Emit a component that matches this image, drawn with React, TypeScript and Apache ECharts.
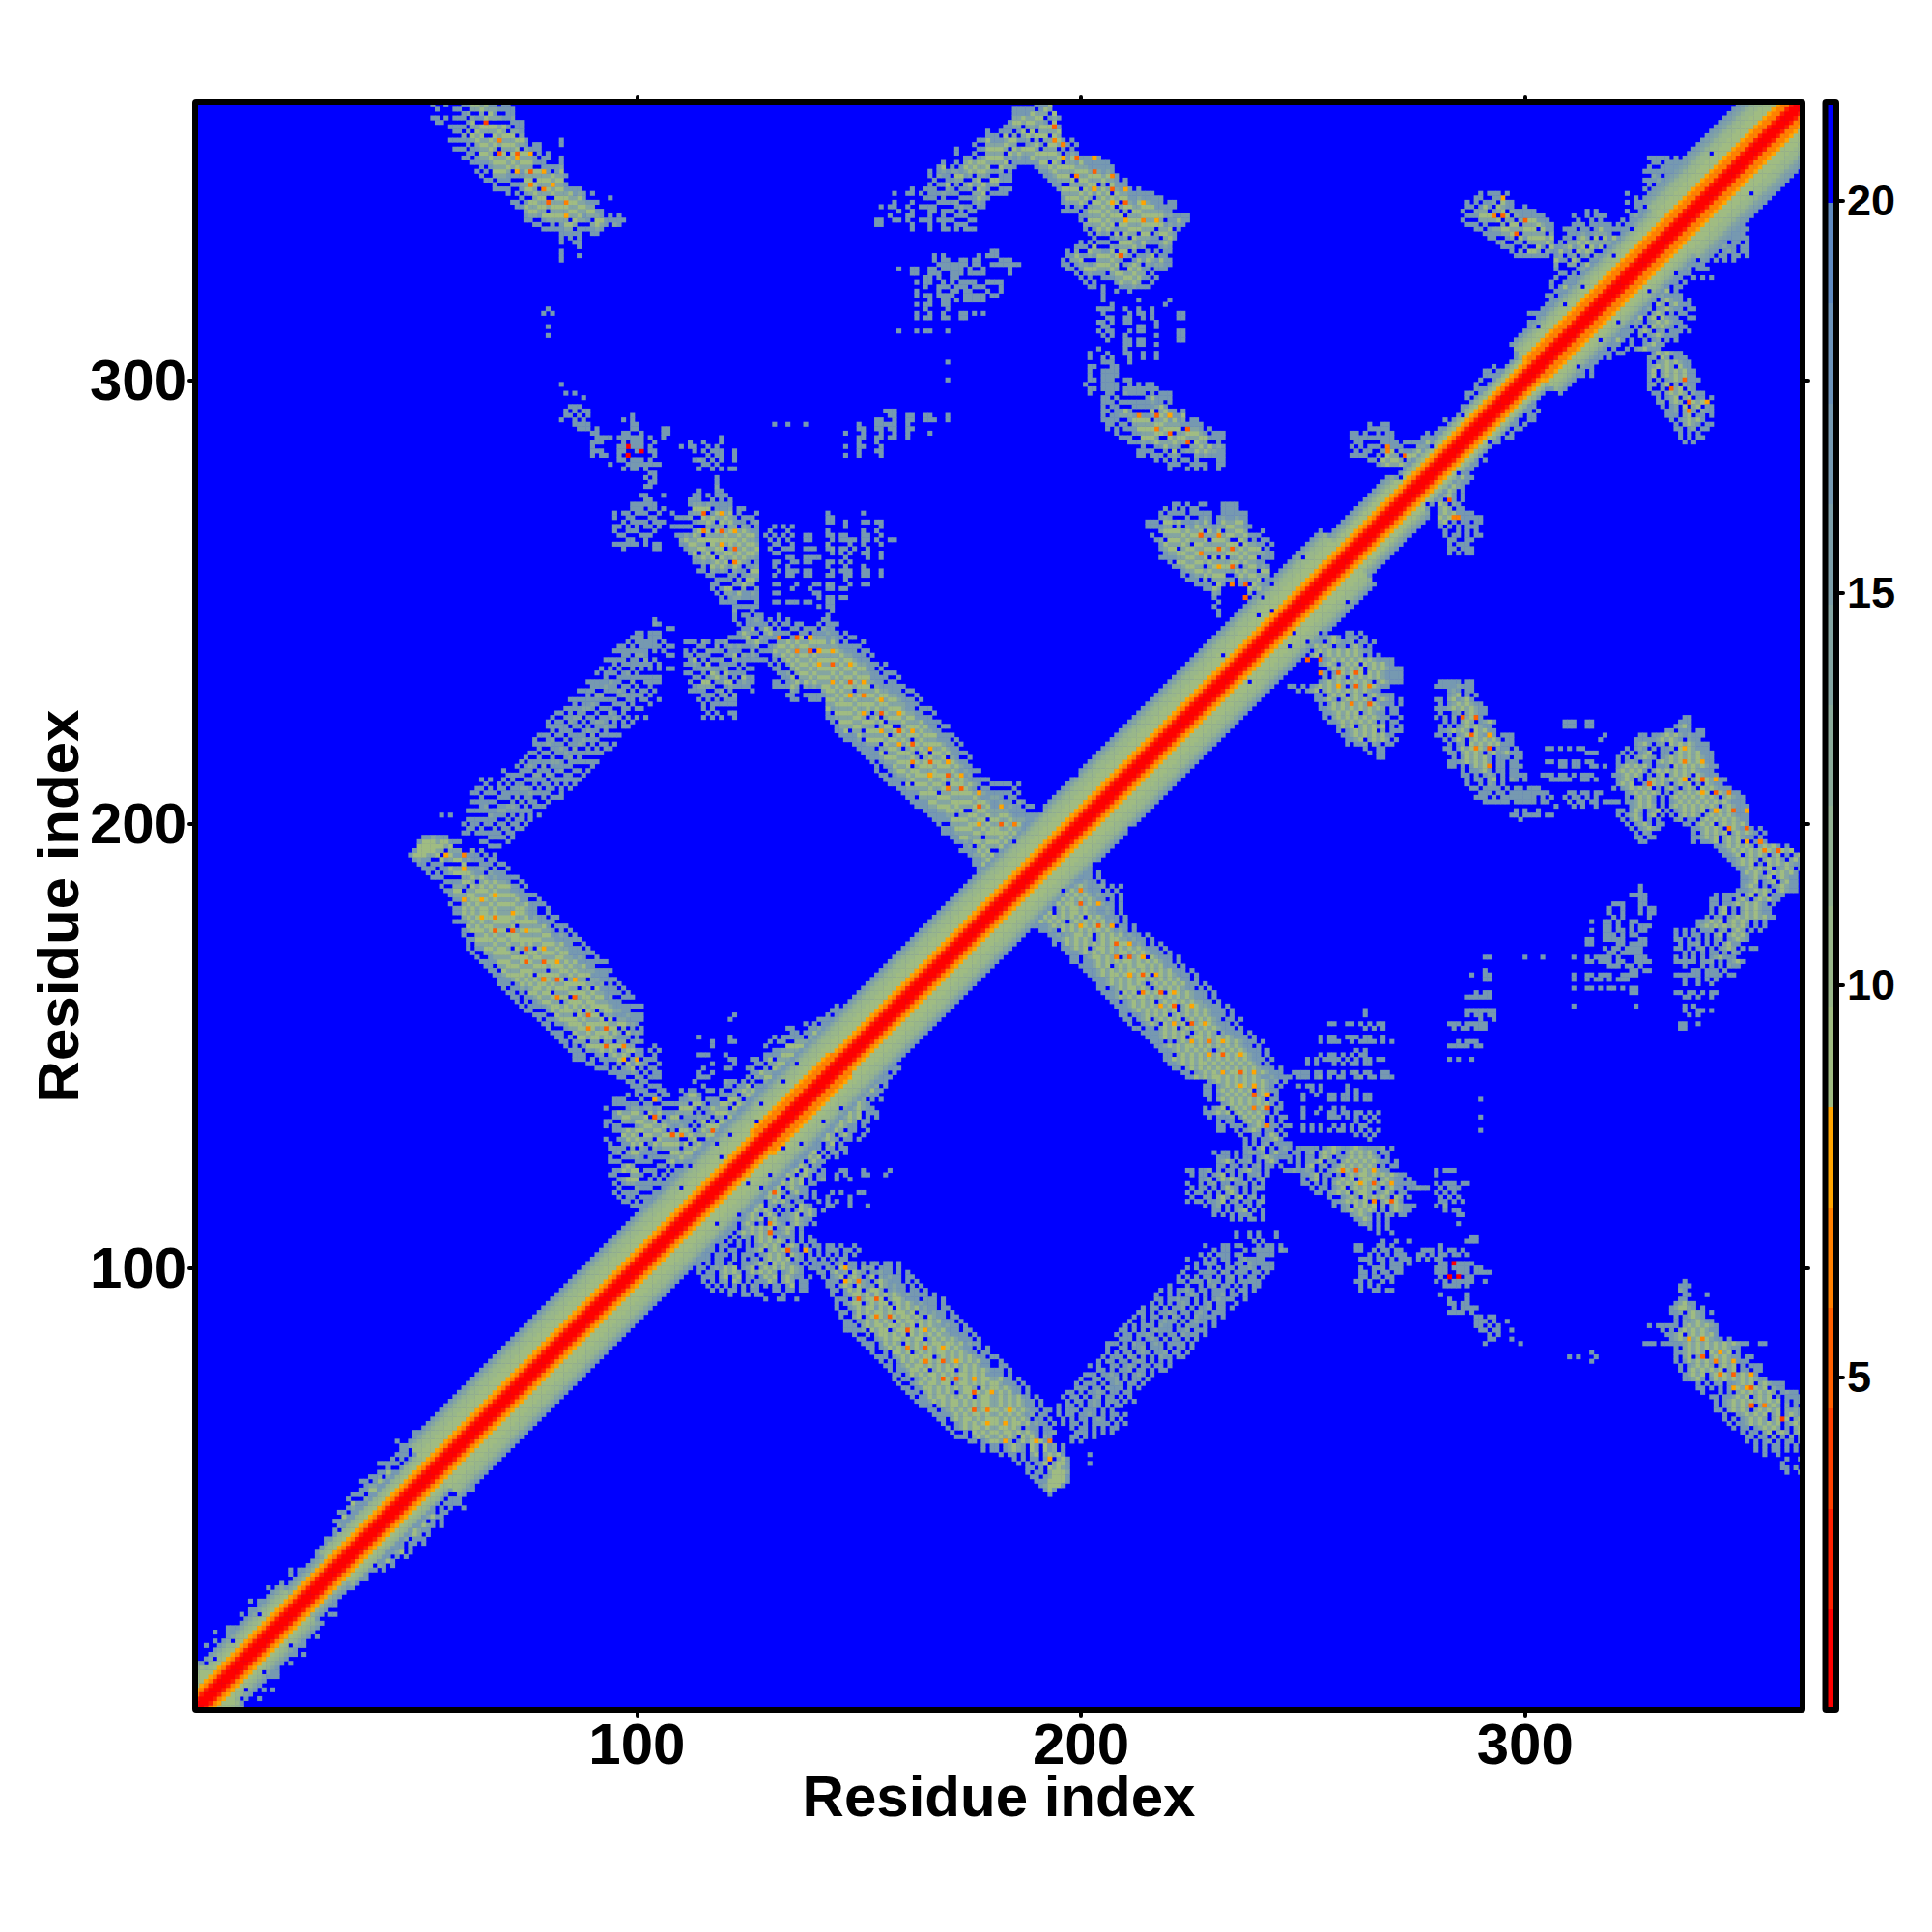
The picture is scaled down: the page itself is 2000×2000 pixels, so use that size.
import React, { useEffect, useRef } from "react";
import * as echarts from "echarts";

// Scale of the colour bar: 16 equal bins.
const scaleMin = 0.76;
const scaleMax = 21.25;
const scaleTicks = [5, 10, 15, 20];
const binColors = ["#FF0000", "#FF2000", "#FF4000", "#FF6000", "#FF8000", "#FFA500", "#A0BC82", "#99B78A", "#92B192", "#8BAB9A", "#84A5A2", "#7D9FA9", "#7699B1", "#6C92B9", "#5F89C0", "#0000FF"];
const residueCount = 362;
// The feature tables below were read on a 359-step ruler; this is the ratio to true residues.
const readingRuler = 359;
// Letters used in the feature tables and the colour bin each stands for.
const featureBins: Record<string, number> = { "0": 0, "2": 2, "3": 3, "4": 4, "5": 5, "6": 6, "8": 6, a: 10, c: 12 };

// Diagonal band, per stretch of residues [from, to, bin at |i-j| = 0,1,2,... as hex digits].
const bandStretches: [number, number, string][] = [
  [0, 6, "0014566678ac"], [6, 14, "0014567 8ac".replace(" ", "")], [14, 24, "00145 678ac".replace(" ", "")], [24, 32, "001458ac"], [32, 44, "00145678c"], [44, 54, "00145678c"],
  [54, 128, "001456667 78ac".replace(" ", "")], [128, 146, "00144566 7 78ac".replace(/ /g, "")], [146, 260, "001456667 78ac".replace(" ", "")], [260, 274, "0014566 8ac".replace(" ", "")],
  [274, 302, "00145 68c".replace(" ", "")], [302, 333, "001445 6678ac".replace(" ", "")], [333, 363, "001445666778abc"],
];
const bandHoles: [number, number][] = [[351, 342], [12, 5], [16, 9], [11, 3], [22, 15], [29, 21], [40, 30], [41, 33], [48, 38], [36, 27], [203, 191], [211, 199], [196, 185], [254, 243], [260, 250], [302, 293], [312, 303], [321, 313], [334, 324], [123, 112], [137, 128], [146, 136], [292, 286], [118, 110], [130, 121], [142, 133], [125, 119], [133, 127], [128, 118], [238, 232], [247, 240], [251, 241], [248, 243], [278, 272], [285, 279], [306, 296], [317, 309], [328, 320]];

// Off-diagonal contacts, lower-right triangle only: [residue y, first residue x, letter per cell, "." = none].
const armLowerCentre: [number, number, string][] = [
  [100, 139, "c.cc.ca.cc.c.cc.cc.c"], [99, 139, "cc.ac.8acc.aca.ccc.c"], [98, 140, "cc.a8ca.8ac.ccacc.c.c"], [97, 141, "c.ca8.a8a.c8.acacc.cc"], [96, 142, "ccc.88a8ac.a8accc.c.c"], [95, 142, "cc.a8a.8aca.8acacc.c.c"],
  [94, 143, "cc.c8a8.a88a.cacc.cc.c"], [93, 143, "c..ca88a8c8a8a8acacccc.c"], [92, 144, "ccc.a8a88a8.a88accc.ccc.c"], [91, 144, "c.ca88.a8a88.a8a8acaccc.c"], [90, 144, "c..ca8a88c8a8.8a8a8cacc.cc"], [89, 145, "cc.c8a8a88a8a88a8.aacacc.c"],
  [88, 145, "c..a8.a8a8a88a88a8a.8acc.cc"], [87, 146, "cc.ca8a8a8a.8a88a8a8a8ccc.c"], [86, 146, "ccc.a8a88a88a8a8.8a8aacacc.c"], [85, 146, "cccca.8a88.a88a8a88a8a8ccc.cc"], [84, 148, "c..c.a88a8a8.8a8a8a8aacccc.c"], [83, 149, "cc..ca8a88a8a88.a8a8a8accc.c"],
  [82, 150, "ccc.c8a8a.8a8a8a88a88a8cacc"], [81, 151, "cc.ca8a8a8a8a88a8a8a8acc.c.c"], [80, 152, "c..c.88a8.a8a8a88a8a8acc.cc"], [79, 153, "ccc.ca8a88a88.a8a8a8a8acc.c"], [78, 154, "c.c.c8a8a8.8a88a8a8a8a8cc.c"], [77, 155, "cc.ca8a88a8a8a8a8a8a8acc.cc"],
  [76, 156, "c.cca88a8.a8a88.a8a8a8acc.c"], [75, 157, "cc.c8a8a88a8a8a88a8a8ccc.c"], [74, 157, "c.cc.ca8a8a88a8a8a8a88a8cc.c"], [73, 158, "c..ca8a88a88.a88a8a8a8accc.c"], [72, 159, "cc.cc88a8a8a8a88a.8a8a8acc.c"], [71, 160, "ccc.a8a8a8a.a88a8a8a8a8cc.c"],
  [70, 161, "c.cc8a88a8a8a8.a88a8a8a8cc.c"], [69, 162, "ccca8a8a88a8a8a88a8a8a8acc.c"], [68, 163, "ccc.a8a88a8a8a88a8a8a8acc.c"], [67, 165, "cc.ca8a8a88a8a8a8a8a8acc.c"], [66, 166, "cccca8a8a88a8a8a8a8aca.cc"], [65, 167, "cc.a8a88a8a88a8a8a8a.cc.c"],
  [64, 168, "c..ca8a8a8a8a8a88a8cacc.c"], [63, 169, "c.ca8a88a8a88a8a.acc.cc"], [62, 170, "c..c.8a8a8a88a8a8ac.cca"], [61, 171, "ccc.a8a8a8a8a.8a8c.ac"], [60, 174, "cc.ca8a8a.c8a8a8cc.."], [59, 177, "c.c.ca8ac.8a.8ca.c"],
  [58, 180, "c.cc.c.a8.a8a8c."], [57, 183, "c.c.cc.cc.a8c"], [56, 184, "c.c.cc8.a88c"], [55, 185, ".cc.c.8a8ac"], [54, 186, "c.cc.a868a"], [53, 187, "cc.ca866c"], [52, 188, "ccc8868c"], [51, 188, ".ca868c"], [50, 190, "c8c"], [49, 191, "c"],
];
const armLowerCheckered: [number, number, string][] = [
  [107, 233, "c..c.c...c"], [106, 233, "c..c.....c"], [104, 226, "c...cc.cc...c.cc.c"], [103, 226, "..c.cc...c.c.ccc.ac"], [102, 224, ".c.c.ccc.cc...cc.c"], [101, 222, "c...c.c.cc..cac.cc"], [100, 222, "..c.ccc..c.cc.a.cc.c"],
  [99, 222, "c.c..c.c.cc.ccac.c.c"], [98, 221, "c...cccc.ac.ccc.cc.c"], [97, 220, "c.c.c.cc.c.ca.c.cc.c"], [96, 220, "cc.ccc.acc.cc.ccccc"], [95, 218, "c...c..c.ca.cc.c.c.cc"], [94, 216, "c.c.ccac.cc.ccc.c.cc.c"], [93, 215, "c..c.c.cac.c.cca.cc.c"],
  [92, 215, "cc.ccacc.c.c.caccc..c"], [91, 214, "c.c.c.cac.c.ca.cc..c"], [90, 212, "c.cc.c.cca.c.cca.cc.c"], [89, 211, "cc.c.ccac.cc.cac.ccc"], [88, 210, "c.c.cc.c.ac.c.acccc.c"], [87, 209, "c..c.c.cacc.c.cacc.c"], [86, 208, "c.c.ccc.acc.c.acc.c.c"],
  [85, 207, "cc.c.c.caccc.cca.ccc"], [84, 206, "c.cc.ccac.c.cc.accc.c"], [83, 205, "..ccc.c.cac.c.cc.c.c"], [82, 204, "ccc.c.acc.cac.cccc.c"], [81, 204, "c..cc.cca.ccc.c.cc.c"], [80, 204, "c.c.cc.cac.cca.cc.c"], [79, 203, "c.ccc.ac.c.c.acc.cc"],
  [78, 201, ".c.cc.cc.cac.c.c.c"], [77, 200, "c.c..cc.cac.cc.cc.c"], [76, 200, "..cc.c.cca.cc.c.cc"], [75, 199, "ccc.ccac.c.cac.c"], [74, 198, "c..cc.cca.c.cc.c"], [73, 197, "c.ccc.c.cac.cc.c"], [72, 196, ".ccc.cc.accc.c.c"], [71, 195, "cc.c.ccac.cc.cc"], [70, 194, "c.cc.c.ca.cc.c.c"],
  [69, 194, ".c.cc.cac.ccc.c.c"], [68, 192, ".c.cc.c.cac.c.cc"], [67, 191, "c.c.ccc.ccc.c.c"], [66, 193, "c.cc.ccac.c.cc.c"], [65, 194, "c.c.cc.cac.c.c"], [64, 194, "c.cc.c.cccc.c.c"], [63, 196, "c.cc.c.c.cc"], [62, 196, ".ccc.c.c.c"], [61, 196, "cc.c.c"], [60, 196, "c.c"], [58, 200, "c"], [56, 200, "c"],
];
const armUpperCentre: [number, number, string][] = [
  [187, 196, "cca.c.c"], [186, 196, "caacc.c"], [185, 196, "8acacc.c"], [184, 196, "8a8accca.c.c"], [183, 190, "a8a88a8a8accc.c.c"], [182, 190, "8a8a.8a8a8acaccc.c"], [181, 187, "c8a8a8a8a8a8a8acc.c.c"], [180, 187, "ca.a8a8a88a8a8acacc.c"], [179, 186, ".ca8a8.a8a88a8aaccac.c"],
  [178, 186, "cca.8a8a8a8a8.8a8accc.c"], [177, 186, "c.c8a8a8a.a8a8a8a8cac.c"], [176, 187, "cccca8a8a8a88a8a8ac.cc.c"], [175, 189, "ccac.8a8a8a8a8a8acac.c"], [174, 191, "ccacaa88a8.a8a8a8cacc.c"], [173, 192, "cca8a8a8a.a8a88aacacc.c"], [172, 192, "c.c8a8a8a8a8a8a88acac.c.c"],
  [171, 194, "cca8a8.a88a8a8a8a8accc.c"], [170, 195, "ccca8a8a8a8a88a8a8accc.c"], [169, 196, "cc.ca88a8a8.a8a8a.8accc.c"], [168, 196, "cc.cca8a8a8a88a8a8a8acc.c"], [167, 198, "ccca8a8.a8a8a88a8a8ccc.c"], [166, 199, "ccca8a8a8a88a8a8a8a8ccc.c"], [165, 200, "cca8a88a8.a8a8.a8a8accc.c"],
  [164, 201, "ccca8a8a8a88a8a8a8a8cc.c"], [163, 202, "cca8a8a8a8a.a8a8a8a8ccc.c"], [162, 202, "cc.ca8a88a8a.a8a8a8acc.c.c"], [161, 203, "ccca.8a8.a8a8a.8a8a8accc.c"], [160, 204, "cca8a8a88a8a8a8a8a8accc.c"], [159, 205, "cc.ca8a8a8.a8a8a8a8aacc.c"], [158, 206, "ccca8a8a8a8a8a.a8a8aaccc.c"],
  [157, 207, "ccca8a8a8a8a8.a8a8a8accc.c"], [156, 207, "cc.cca8a8a8.a8a8a8a8accc.c"], [155, 208, "cc.ca8.a8a8a8.a8a8a8ac.cc.c"], [154, 209, "c..ca8a.8a8a8.8a8a8accc.c"], [153, 210, "cc.cc.a8a8.a8a8a8a8accc.c"], [152, 212, "cccca8a8a8a.a8a8a.acccc.c"], [151, 213, "ccca8a8a8.a88a8a8a8accc.c"],
  [150, 214, "ccc.c.a8a8a8a8a8a8a8accc.c"], [149, 215, "cca8a8a88a8a8a8a8a8acc.c"], [148, 216, "ccca8a8a8a8a.a8a8a8accc.c"], [147, 217, "cc.a8a8a8a8a8a8a8a8acc.c"], [146, 217, "cc8a8a8a8a8a8a8a8a8accc.c"], [145, 218, "cca8a8a88a8a8a8a8a8ac.c"], [144, 219, "cc.a8a8a8a8a8a8a8a8accc.c"],
  [143, 221, "cc.ca8a8a8a88a8a8a8accc"], [142, 222, "cc8a8a88a8a8a8a8accacccc"], [141, 226, ".ca8a8a8a8a8a8aca.c"], [140, 226, "cc.ca8a8a8a.a8ac.c"], [139, 226, "cc.a8a8a8a8.a8acc"], [138, 226, "cc.ca8a8a8a.a8a.c"], [137, 227, "c.a8a8a8a8a8a.cc"], [136, 228, "..ca8a8a8a8a8c.c"],
  [135, 226, "c.ca8.a8a8a8a8a.cc"], [134, 226, "cca8a8.a8a8a8ac.c"], [133, 227, "c.ccca.c8a8a8.c.cc"], [132, 229, "c.cc..a8a8a.c.c"], [131, 229, "cc.ccc.ca8a8cc.cc"], [130, 229, "cc..c.ca8a.cc.c"], [129, 234, "c..cc.c8a.c"], [128, 235, "c.c.cca8c"], [127, 235, "c.c.ca.cc"], [126, 235, "cc.a8.c"],
  [125, 228, "c.cc.c.caaca.c8cc"], [124, 229, "ccc.c.cc.ca8acc"], [123, 229, "ca8c.cca.c.a8c"], [122, 229, "cc.cc.c.ca.cc.c"], [121, 222, "cc.cca.c.cc.ca8cc.c"], [120, 223, "c.cc.ca8.c.c.cca.c"], [119, 225, "cca.c8a8ac.c.ca"], [118, 222, "c..c.ca.cc.cca.c.c"],
  [117, 223, "c.cc.c.c8ac.c.cac"], [116, 222, "c.cc.c.c.a8c.c.c"], [115, 223, "c..cc.a8c.a8.ca.c"], [114, 222, "c.cc.cca8.ca.cc.ca"], [113, 226, "c.ca.c.cc.c.c"], [112, 228, "cc.c.ca8.c.c"], [111, 228, "c.c.c.ccc..c"], [110, 232, "c.c.cc.c"],
];
const branchToward280: [number, number, string][] = [
  [127, 244, "cc"], [126, 243, "cac.ccccc.ca8acca8acccca.c"], [125, 244, "c.cc.ca.a8a8c.a8a8a8c.cc"], [124, 244, "cc.c.cc.a8a.cca8a8a8ac.c"], [123, 245, "c.c.cca8.cc.a8a8a8a8acc.c"], [122, 247, "c.a8.ca.ca8a8a8a8a.c.cc"], [121, 244, "ccaccac.c.ca8a8a8a8a8acc"], [120, 248, "cca8.cc.c.a8a88a8a8a8acc"],
  [119, 248, "c.a8.c.ca8a8.a88a.a8acc.c"], [118, 248, "cc.c.c.a8a8a8a8a8a8acccccc"], [117, 250, "c.cc.ca8.a8a8a8a.a8cc.ccacc"], [116, 251, "cc.ca8a8.a88a.ca8c.cc"], [115, 254, "c..ca8a.8a8a8a.8a.c"], [114, 255, "cca8a8a8.a.a8a8c"], [113, 255, "c.ca.8a8a8.a.a8accc"], [112, 257, "ca8a8a8a.c.a8acc"],
  [111, 259, "ca8ac.c.ac.cc"], [110, 260, "cc8a.c.c"], [109, 261, "cac.c.c"], [108, 263, "c.c.c"], [107, 265, "c..c"], [105, 266, "c..c..c"],
  [117, 279, "c.ccc"], [118, 277, ".c.ccc.cc"], [121, 278, "c.ccc"], [120, 278, "c"], [116, 277, ".c.c.c"], [115, 279, "c.c.c"], [114, 279, "cc.c.c"], [113, 278, "c.a"], [112, 280, "c.cc"], [111, 283, "cc"], [109, 283, "c"],
];
const gridBesideArm: [number, number, string][] = [
  [157, 262, "c"], [156, 262, "c"], [154, 254, "cc..cc.c.c.cc"], [153, 262, "c.c.c"], [151, 252, "c.cc..ccc.cc..c"], [150, 252, "c.ccc..c.cccc.c.c"], [148, 260, "c.c"], [147, 252, "c.cc.c.c.cc"], [146, 249, "c.c.cccc.c.c.cc.cc"], [145, 249, "c.c...c.c.cc.cc"],
  [143, 246, "cccc.cc.cc.c.ca.cc..cc"], [142, 247, "ccc.ca.c.cc..ca.cc.ccc"], [140, 247, "c.cc.c.....c"], [139, 250, "c.c.....c.c"], [138, 248, "c..c..cc.cc.c.cc"], [137, 248, "c.....cc.cc.c.cc"], [135, 248, "c...c..c.c"], [134, 248, "c..c..cc.cc.cc.c.c"], [133, 248, "c.....ccc.c.c.c.c"], [132, 260, "c..c.c"],
  [131, 248, "c.c.c..c.c.c.cc"], [130, 248, "c.c.c.c.cc.c.c.c.c"], [129, 260, "c.c.c"], [128, 263, "c"],
  [137, 288, "c"], [133, 288, "c"], [130, 288, "c"],
];
const sparseNearResidue290: [number, number, string][] = [
  [169, 289, "cc.......c..c"], [166, 289, "c"], [165, 286, "c..cc"], [164, 289, "cc"], [161, 287, "c.cc"], [160, 285, "cccccc"], [157, 285, "ccccccc"], [156, 285, "c.cc.cc"], [155, 288, "c..c"], [154, 281, "ccc.ccccc"], [153, 282, "c.cc.ccc"], [150, 283, "c.ccc"], [149, 281, "ccccc.cc"], [146, 281, "c.c..c"],
];
const sparseBelowBranch: [number, number, string][] = [
  [107, 238, "c"], [106, 238, "c"], [105, 237, "c.c"], [103, 237, "cc"], [102, 238, "c.c"], [101, 237, "ccc"], [100, 237, "c.cc"], [99, 239, "cc"],
  [104, 260, "cc...cc.c"], [103, 260, "cc..c.cc.cc"], [102, 263, "c.c.c.ccc..cc"], [101, 261, "ccc.cc.c.ccc.c.c.cc"], [100, 263, "c..c.ccc.c"], [99, 261, "c..ccc.ccc"], [98, 261, "cc.c.cc.cc"], [97, 261, "cc.cc.cc"], [96, 260, "cc.c..c.c"], [95, 261, "c.c.c"], [94, 261, "c..cc.cc"],
  [106, 286, "cc"], [105, 285, "ccc"], [104, 279, "c"], [103, 275, "ccc.c.cc.c"], [102, 275, "c.c.cc.cc.c"], [100, 279, "cc.0cccc"], [99, 278, "ccc.cccc.cc"], [98, 278, "ccc..ccc.cccc"], [97, 279, "c.0.0.cc"], [96, 278, "c.c.ccccc..c"], [95, 280, "cccc.c"],
  [93, 279, "c.....c"], [92, 281, "c...c"], [91, 281, "cc.cc"], [90, 282, "c.cccc"], [89, 281, "cccc.c"], [88, 286, ".cc.cc"], [87, 287, "ccc.c..c"], [86, 287, "cc.c.c"], [85, 288, "cc.cc..c"], [84, 290, "c.c"], [83, 290, "cc...c"], [82, 289, "c.......c"],
  [80, 312, "c"], [79, 307, "c.c...c"], [78, 312, "c"],
];
const armLowerRightCorner: [number, number, string][] = [
  [96, 333, "c"], [95, 332, "ccc"], [94, 332, "ac"], [93, 333, "cc...c"], [92, 332, "cc"], [91, 331, "ca8cc"], [90, 330, "ca88ac.c"], [89, 330, "cca.a8ac.c"], [88, 331, "c.ca8ac"], [87, 331, "c.aca8acc"], [86, 325, "c.ccccc.a8a8a8ac"], [85, 328, "c.c.a8a8a8acc"], [84, 329, "cca8.a8a8a8c"], [83, 330, "ca8a8a8a8acc.c"],
  [82, 324, "ccc.ccccca8a8a8a8a8a8acc..cc"], [81, 331, "c.a8a8a8a8a8acc"], [80, 331, "cca8a8a.8a8a8.c"], [79, 331, "c.a8.a8.a8a8acc.cc"], [78, 331, "c.c8a8a8a8a8acccc"], [77, 332, "c.ca8a8a.a8a8.c.ccc"], [76, 332, "c.a8a8a8a8.a8.cc.cc"], [75, 332, ".ca8a8.a8a8a8a8acc"], [74, 333, "cca8c.c8a8a8a8a8acc"],
  [73, 336, "c.c.ca.cca8a8.a8accc"], [72, 336, "cc.c.c.ca8a8a8a8.acc"], [71, 337, "c...c.c.a8a8a8a8a.cacc"], [70, 339, "cc.cca8a8.a8a8.c.cccc"], [69, 340, "c.ca8a8a8a8a8a8.c.cc"], [68, 340, "c.ca8a8a8.a8a8a.a.c.ca"], [67, 340, "cc.a8a8a.a8a8a8.acac"], [66, 342, "c..ca8a8a8.a8.a8acc"], [65, 342, "c.c.ca8a8a.a8a8.a8cc"],
  [64, 343, "c.cca8a8a8a8.ca8a"], [63, 344, "c.cc.ca8a8a.c.a8a"], [62, 346, "c.cc.a8.a8a.a8ac"], [61, 347, "cc.cc.a.c.a.c.ac"], [60, 347, "c.c.ca.c.cc.c.c"], [59, 349, "c.c.cc.c.c"], [58, 350, ".c..c"], [57, 356, "c..c"], [56, 355, "c"], [55, 355, "cc.c"], [54, 356, "c..c"],
];
const blobs200to245: [number, number, string][] = [
  [241, 258, "cc.c"], [240, 253, "ca8c.ccc.c"], [239, 251, "cc.a8acca.cc.c"], [238, 249, "ca8a8a.cc.a8c.c"], [237, 249, "c.a8a8a8a8a8acc"], [236, 248, "c.a8.a8a8a8a8a.c.c"], [235, 252, "cca8a8a8a8a8acccc"], [234, 252, "ca8a.a8a8.8a8a8cc"], [233, 254, "c8a8a8a8.a8a8accc"], [232, 253, "c.ca8a8a8.8a8acccc"], [231, 253, "c.a8a.8a8a8a8acccc"],
  [230, 252, "ca8a8a8a8a8a.a8accc"], [229, 245, "cc.c.ca8a8a8a.a8a8a8acc"], [228, 246, ".c.ca8.a8a8a8a8a8acc"], [227, 251, "cc.a8a8.a8a.a8accc"], [226, 251, "cca8a.a8a8a8a.a8ac.c"], [225, 252, "c.c8a8a8a8a.8accc.c"], [224, 252, "cca8a8a8a8a8a8a.cc"], [223, 253, "cca8a8a8.a8acc.cc"], [222, 253, "c.a8a8a8a8a8acc..c"],
  [221, 254, "cca8a8a8a8a.c.cc"], [220, 256, "c8a8.a8a8a8.c.c"], [219, 256, "c.ca8a8a8.a.ccc"], [218, 257, "cca8a8a8a8cc"], [217, 258, "cca8.a8a8a.c"], [216, 258, "c.cca.ac.cc"], [215, 262, "c..cc"], [214, 263, "c.cc"], [213, 265, "cc"],
];
const blobs200to300: [number, number, string][] = [
  [230, 279, "ccccc.cc"], [229, 278, "cccccaccc"], [228, 281, "cac.cc"], [227, 281, "ca8.c.c"], [226, 278, "cc.a8ca8c"], [225, 279, "c.ca8a8acc"], [224, 278, "ccca8a8a8acc"], [223, 279, "c..ca.a8acc"], [222, 278, "c.c.a.ca8cc"], [221, 280, "c.c.a8a.ca8c"], [220, 279, "c.c.ca8a8acc"], [219, 279, "cca8a8a.8a8cc"], [218, 278, "cc.c.ca8a8ac.c.ccc"], [217, 280, "c.c8a.a8a8a8c.cc"],
  [216, 281, "c.ca.8a8a8a8ccc"], [215, 280, "cc.c8a8a8a8.acc.c"], [214, 281, "cc.a8a8a.a8ca8ccc"], [213, 282, "c.c8a8a8c.ccc.cc"], [212, 281, "ccca8a8a8c.cc.cc"], [211, 281, "cc.c.c8a8a.cc.ccc"], [210, 284, "c.cca8c.cc.cc"], [209, 284, "cc.c.cac.c.cccc"], [208, 285, "c.cc.a8.c.ac.c"], [207, 285, "c..c.ac.c"], [206, 286, "cc.cccc.c.cc.cc"],
  [205, 288, "ccc.cc.ccc.cc"], [204, 287, "ccc.c.ccccc.c.c.c"], [203, 289, "cccccc.cccc.c"], [201, 296, "c.c.c"], [200, 295, "cc.ccc.cc"], [199, 297, "c"],
];
const gridLeftOfArc: [number, number, string][] = [
  [221, 306, "ccc..cc"], [220, 306, "ccc..cc"], [218, 315, "c"], [217, 314, "c"], [215, 302, "cc.c.c.cc"], [214, 311, "ccc"], [212, 302, "cc.cc.cc.cc"], [211, 305, "cc.cc..cc.c"], [209, 301, "ccc.cc.c.ccc"], [208, 303, "ccccc..cc.c"], [205, 298, "ccccc....cc.cc.cc"], [204, 298, "cc.c....c.cc.c.c"], [203, 301, "cc....c.cc.cc.ccc"], [202, 304, "c...c.c..c"],
];
const arcResidue300to359: [number, number, string][] = [
  [222, 333, "cc"], [221, 332, "ccc"], [220, 331, "ca8c"], [219, 329, "cc.ccc.cc"], [218, 323, "cc.cca8a8acaccc"], [217, 322, "ccccca8a8ac.acc"], [216, 322, "ca8c.ca.8a8a8accc"], [215, 320, "c.cac.c.cca.8a8accc"], [214, 319, "c.c.ca8..cc.a8a8a8ccc"], [213, 318, "c.c.ca8ac.ca8a8a8a8acc"], [212, 318, "c.cac.cc.a8a8a8a8a8acc"],
  [211, 318, "ca8a8a8c.cca.8a8a8a8acc"], [210, 318, "a8a8a8c.a8a8a8a8a8accc"], [209, 317, "cca8a8a.c.a8.a8a8a.8accc"], [208, 318, "ca8a.c.a8a8a8a8a.a8a8accc"], [207, 318, "c8a8..c.8a8c.a8a8.a.8acc"], [206, 317, "c.ca8a8a8.c.a8c.a8a.8a8accc"], [205, 320, "ca8a8a8a.c.a8a8a8a8.a8accc"], [204, 320, "c.a8a8c.c.a8a8a8a8a8a.a8acc"], [203, 318, "c.cca8a8c.c.ca8a8a8a8a8a8accc"],
  [202, 321, "ca8a8a.c.a8a8a8a8a8a.a8accc"], [201, 318, "cc.c8a.ca8.c.ca8a8a8.c.8a8acc"], [200, 318, "c.ca8c.a8.c.c.a8a8a.a8a8a8accc"], [199, 319, "c.c8a.c.c...ca.cc.a8a8a8a8acc"], [198, 320, "c.ca8c.cc....cc.a8a8.a8a8a8c"], [197, 321, "c.ca8ac.......cca8a8a.a8accc.c"], [196, 322, "c.ac.........c.a8a8a8.a8a8ac.c"], [195, 322, "cc.cc........cca8a8.a8a8acc.c"],
  [194, 323, "cc..........c.cca8.a8a8.c.c.c"], [193, 340, "cca8a8a8a.a8a8c.c"], [192, 341, "cca8a8a8a8a8a.8a8"], [191, 342, "cca8.a8a8a.a8.c.a8"], [190, 343, "cca8a8a.a8a8c.a8c"], [189, 344, "ca8a8.c.8a8a8acc"], [188, 344, ".cca8a8a8.ca8a.c"], [187, 346, "c8a8a.a8a8a8c"], [186, 346, "cca8ca8.a8acc"], [185, 346, "cca8.ca8.a8cc"], [184, 346, "ca8a.c.ca8acc"],
  [183, 345, "ccca8a8a.a8acc"], [182, 340, "c.ccca.a8.a8.ccc"], [181, 339, "cc.cc.a8c.a8a8cc"], [180, 339, "cc.cca8a8a8ac.c"], [179, 339, "c.a8.c.a8a8acc"], [178, 338, "c.cc.ca8a8a8a8cc"], [177, 336, "cca8a8.a8a8a.c.c"], [176, 336, "ca8a8a8a8a8c.c.c"], [175, 331, "c.c.c.cca.ca.a8a.c.c"], [174, 331, "c.c.cc.c.a8.a8a8c"], [173, 331, "cc.c.c.c.ca.ca8ac"],
  [172, 332, "c.cca.c.c.a8cc"], [171, 331, "cc.c.ca.c.ca8a.c.cc"], [170, 333, "c.c.c.cc.c.ac"], [169, 331, "c.c.c.c.ca8ccc"], [168, 331, "ccccc.cca.c.ca8c"], [167, 333, "c...c.c.c.acc"], [166, 335, "cc.ccc.c"], [165, 331, "cccccc.cccc.cc"], [164, 333, "c..c.c.c"], [163, 333, "c..c..c"], [161, 331, "cc.cc.c.cc"], [160, 333, "cc.c..c"], [158, 333, "c.c"], [157, 333, "c..cc.c"], [156, 334, "c.c"], [154, 332, "cc..c"], [153, 332, "cc"],
];
const gridNearResidue320: [number, number, string][] = [
  [184, 323, "c"], [183, 323, "c"], [182, 321, "cccc"], [181, 323, "cc"], [180, 317, "ccc...cc"], [179, 316, "c..c...c.cc"], [178, 317, "c.c.....c"], [177, 312, "c..cc.c..cc"], [176, 315, "cc.c..c.ccc"], [175, 312, "c..cc.cc.c.cc"], [174, 315, "ccc.c.cc"],
  [173, 311, "cc..ccccc...cc"], [172, 311, "cc.....cc.cccc"], [171, 315, "c.cc.cccc"], [170, 316, "cc.ccccc"], [169, 308, "c..c.cccc.c...ccc"], [168, 311, "cc.ccc.cc..cccc"], [167, 316, "ccc.cc.c"], [166, 321, "cc.cc"], [165, 308, "c..cc.ccc..cccc"], [164, 308, "c..c.cc.c.ccc"],
  [162, 308, "c..cc.c.cc.c.cc"], [161, 321, "cc"], [158, 308, "c.............c"],
];
const blobsNearDiagonal: [number, number, string][] = [
  [336, 344, "cc"], [335, 342, "cccc"], [334, 342, "ca8cc"], [333, 342, "a8acc"], [332, 342, "8a8cc"], [331, 342, "ca8acc"], [330, 342, "c8acc"], [329, 341, "ca8cccc"], [328, 341, "c8.cc.c"], [327, 341, "cacc.cc"], [326, 340, "c.cac.cc"], [325, 341, "cc.cc.c"], [324, 340, "c.c.c"], [323, 335, "ccc"],
  [322, 333, "ca.ccc"], [321, 331, "a8cc"], [320, 329, "ca.c..c.c.c"], [319, 328, "c8cc.c"], [318, 327, "c8a.cc"], [317, 326, "a8a8.c"], [316, 325, "ca8acccc"], [315, 325, "a8.a8acc.c"], [314, 324, "ca.8a.a8ccc"], [313, 323, "c8a.ca8acc.cc"], [312, 322, "a8c.a8a.c.cc"], [311, 321, "ca8.a8.8acc..cc"], [310, 320, "a8ac.ca8a8acc"],
  [309, 319, "a8.c.a.8a8ac.cc"], [308, 316, "c8a8cc.a8a.ca.ccc.c"], [307, 315, "ca8acc..a.ca8accc"], [306, 315, "a8a8c.c..c.ca.c.c"], [305, 314, "a8acc..c..ca8cc"], [304, 313, "ca8.c..c.ca8ccc"], [303, 312, "a8acc.cc"], [302, 310, "a8a.c.c"], [301, 309, "ca8cc"], [300, 308, "ca8.c"], [299, 306, "c8a.c.c"], [298, 305, "a.cc"], [297, 303, "c8.c"], [296, 301, "c.c"],
  [294, 298, "c.c"], [293, 295, "c.c.c"], [292, 296, "a.cc"], [291, 295, "a8.ccc"], [290, 294, "a.cc.c"], [289, 294, "8ac..c"], [288, 295, "cc.c"], [287, 294, "c.cc"], [286, 293, "c.c"], [285, 292, "c.cc"], [284, 291, "cc"], [283, 290, "c"],
  [304, 325, "cc"], [303, 326, "c8a8acc"], [302, 325, "ca.8a.ccc"], [301, 325, "c.ca8a8acc"], [300, 325, "ca8a8a.8cc"], [299, 325, "c8.a8a8a8cc"], [298, 325, "c.c.ca8acccc"], [297, 325, "ca.c8.a.acc"], [296, 325, "c..c.8a8.ac"], [295, 326, "cc.a8a8a.acc"], [294, 327, "c.ca8.a8.cc.c"], [293, 327, "ca.a8a.a8a8c"],
  [292, 328, "c.ca.8.a8.cc"], [291, 329, "cca.a8c.acc"], [290, 329, "ccc.a8.cc.c"], [289, 330, "c.ca8a8c"], [288, 331, "c.a8ac.cc"], [287, 331, "cc.ca.cc"], [286, 332, "c.c.c"], [285, 332, "c.c.cc"], [284, 333, "c.c"],
  [271, 279, "a.cc.c"], [270, 279, "8a.ac"], [269, 279, "a8a.cc"], [268, 279, "a8a8cccc"], [267, 279, "8a8acccccc"], [266, 279, "a8.c.cc.cc"], [265, 279, "c.c.c.ccc"], [264, 280, "c..c.c.c"], [263, 280, "c.cc.c.cc"], [262, 281, "cc..cc"], [261, 281, "c.ccc"], [260, 281, "cc.ccc"], [259, 281, "c.c.cc"],
  [280, 287, "c.c"], [279, 286, "cc"], [278, 285, "ac"], [277, 283, "a8c"], [276, 283, "a8cc"], [275, 282, "8acc"], [274, 281, "a8ac"], [273, 281, "8a.c"], [272, 280, "a8c.c"],
  [50, 60, "c.c"], [48, 56, "c.cc"], [47, 57, "ccc"], [46, 56, "c.c.c"], [45, 54, "c.cc"], [44, 53, "a8cc"], [43, 52, "a.c.c"], [42, 51, "c8ac.c"], [41, 50, "8acc"], [40, 49, "c8a.c"], [39, 48, "a.ccc"], [38, 47, "c.cc.c"], [37, 46, "cc.c"], [36, 45, "ca8.c"], [35, 44, "c.c.c"], [34, 43, "c8c"], [33, 42, "ac.c"], [32, 41, "c.c"],
  [30, 37, "c.c"], [28, 36, "c"], [24, 32, "c"], [22, 31, "cc"], [20, 29, "c"], [17, 26, "c.c"], [15, 24, "cc"], [13, 22, "cc.c"], [11, 20, "c.c"], [9, 19, "c"], [8, 18, "cc"], [5, 16, "c.c"], [3, 15, "c"],
];
const blobBesideResidue125: [number, number, string][] = [
  [144, 157, "cc"], [143, 157, "c"], [142, 155, "cc"], [141, 154, "cc"], [140, 152, "ca.c"], [139, 151, "a8cc"], [138, 150, "8acc"], [137, 149, "ca.c.c"], [136, 149, "8ac"], [135, 148, "a8acc"], [134, 147, "8a8.ccc"], [133, 146, "a8a8.c.c"], [132, 145, "8a8a.cc"], [131, 144, "a8acc.c"], [130, 143, "c8a.cc..c"], [129, 142, "8a.a8c..c"],
  [128, 141, "a8ac.cc.c"], [127, 140, "c.c8.c"], [126, 139, "cc.ac.cc"], [125, 138, "a8.c.ca.c"], [124, 137, "c8a8.c.c"], [123, 136, "a.a8cc"], [122, 135, "c8a.ac"], [121, 134, "a8.8ac.c...cc...c.....c"], [120, 133, "8a.a8c.cc..c.c...cc...c"], [119, 132, "a.8a8.c.ca..c..c"], [118, 131, "c8a8a8.cc"], [117, 130, "a8.a8acc"], [116, 129, "8a8c.a8cc.c...c.c...cc"],
  [115, 128, "a8a8.acc.c.c..c....c"], [114, 127, "c.a8a8c.cc...c.c.c..c"], [113, 126, "a8.ac.cac.8ac...cc...c...c"], [112, 125, "c8a8a.c.c.c8a8c.c"], [111, 124, "a8a.a8a.cca8.a8c"], [110, 123, "ca8a8.a8ccca8acc"], [109, 122, ".a8a.c.a8ac.a8ac.c"], [108, 121, "c.ca8a8a8.ca8a.c"], [107, 113, "c.c.c..c.c8a8a8a.cca8c.c"], [106, 113, ".cc.c.c.c.ac.a8a8.accc.c.c"], [105, 113, "cc.c.c.c.c.c.a8a8a8a.c.c.cc"], [104, 113, "c.cc.cc..c.c.ca8a8a.a8a.c.cc.cc.c..c"],
  [103, 113, ".ccc.c.cc..cca8.a8a8.cc.cc.c.ccc.cc.c"], [102, 113, "c.c.ccc.c.ccc.ca8a8a.8ac.c.c.c.c.c.c"], [101, 114, "cc.cc..c.c.cc.a8a8a8.ac.cc.c.c.cc"], [100, 113, "c.c.cc.c..ccca8a.8a8acc.c.cc"], [99, 113, "cc.cac8a8.ca8.a8a8c8a8ac.c"], [98, 113, "c.cc.a8a8a.c8a8a8a.ca8ac"], [97, 114, "ccc.a8.a8.ca.c8a8.a8acc.c"], [96, 114, "c.c.ca.8a.c.ccc8a.a8a.cc"], [95, 115, "c.c.c.c.c.ac.c.cc.c8.cc"], [94, 116, "c.c.cc.c.cc...cc.cc.cc"], [93, 120, "c..cc.cc....c"], [92, 128, "c..cc..c"],
];
const hotCells: [number, number, number][] = [
  [149, 92, 3], [153, 92, 3], [153, 88, 4], [156, 88, 3], [160, 85, 3], [164, 85, 5], [160, 81, 4], [164, 81, 3], [168, 81, 5], [164, 78, 4], [168, 78, 3], [171, 78, 5], [168, 74, 3], [171, 74, 3], [175, 74, 5], [175, 71, 3], [179, 71, 5], [175, 67, 3], [178, 67, 4], [182, 67, 5], [178, 64, 5], [181, 64, 5], [181, 60, 5], [188, 60, 5], [191, 60, 4], [191, 57, 5], [146, 99, 5], [146, 96, 5], [149, 96, 4],
  [189, 183, 4], [194, 183, 4], [195, 183, 4], [198, 183, 4], [198, 180, 3], [202, 180, 5], [198, 176, 5], [202, 176, 3], [205, 176, 5], [206, 172, 3], [209, 172, 5], [206, 169, 4], [209, 169, 3], [212, 169, 5], [209, 165, 5], [212, 165, 3], [215, 165, 5], [212, 161, 4], [216, 161, 3], [219, 161, 5], [216, 158, 5], [219, 158, 3], [223, 158, 5], [219, 154, 5], [223, 154, 3], [226, 154, 5], [223, 150, 5], [227, 150, 4], [230, 150, 5], [227, 147, 5], [230, 147, 3], [234, 147, 5], [230, 143, 5], [234, 143, 3], [237, 143, 5], [234, 140, 5], [237, 140, 5], [237, 138, 3], [240, 138, 5], [237, 135, 4], [240, 135, 3], [240, 131, 4],
  [257, 121, 4], [260, 121, 3], [264, 121, 5], [261, 118, 5], [264, 118, 3], [268, 118, 5], [264, 114, 4], [268, 114, 3],
  [245, 239, 4], [249, 235, 3], [252, 235, 3], [252, 232, 4], [256, 232, 3], [260, 232, 3], [256, 229, 5], [260, 229, 3], [263, 229, 4], [259, 225, 4], [263, 225, 3],
  [284, 222, 3], [287, 222, 3], [286, 218, 3], [290, 218, 5], [287, 215, 4], [290, 215, 3], [290, 211, 4],
  [333, 215, 5], [333, 212, 4], [337, 212, 5], [333, 208, 5], [337, 208, 3], [340, 208, 5], [325, 207, 3], [337, 205, 5], [340, 205, 3], [343, 205, 4], [340, 201, 5], [344, 201, 3], [347, 201, 5], [343, 197, 4], [347, 197, 3], [347, 194, 5], [350, 194, 4], [351, 192, 4], [354, 192, 3],
  [334, 83, 5], [337, 83, 4], [337, 79, 3], [340, 78, 4], [341, 80, 5], [344, 78, 5], [341, 75, 4], [344, 75, 3], [348, 75, 5], [344, 72, 5], [347, 72, 5], [348, 72, 3], [348, 68, 3], [351, 68, 4], [355, 65, 2],
  [123, 120, 4], [125, 120, 4], [127, 120, 3], [127, 116, 4], [130, 116, 3], [129, 109, 4], [129, 107, 3], [133, 103, 3], [137, 103, 5], [136, 130, 5], [139, 127, 5],
  [281, 271, 3], [282, 267, 4], [283, 267, 4], [308, 300, 5], [310, 304, 4], [333, 298, 3], [330, 296, 3], [334, 293, 3], [334, 291, 4], [338, 293, 5], [318, 313, 4], [322, 314, 4], [333, 336, 4], [325, 320, 5],
];

const categories = Array.from({ length: residueCount }, (_, i) => String(i + 1));
const allFeatures = [armLowerCentre, armLowerCheckered, armUpperCentre, branchToward280, gridBesideArm, sparseNearResidue290, sparseBelowBranch, armLowerRightCorner, blobs200to245, blobs200to300, gridLeftOfArc, arcResidue300to359, gridNearResidue320, blobsNearDiagonal, blobBesideResidue125];

const binWidth = (scaleMax - scaleMin) / binColors.length;
const levelValue = (l: number) => scaleMin + (l + 0.5) * binWidth;
const trueResidue = (r: number) => Math.round((r * residueCount) / readingRuler);

function buildCells() {
  const grid = new Map<string, number>();
  const put = (x: number, y: number, l: number) => {
    if (x < 1 || y < 1 || x > residueCount || y > residueCount) return;
    grid.set(x + "," + y, l);
    grid.set(y + "," + x, l);
  };
  allFeatures.forEach((rows) => rows.forEach(([y, x0, s]) => {
    for (let k = 0; k < s.length; k++) {
      if (s[k] === ".") continue;
      const x = x0 + k;
      for (let tx = trueResidue(x); tx < trueResidue(x + 1); tx++) for (let ty = trueResidue(y); ty < trueResidue(y + 1); ty++) put(tx, ty, featureBins[s[k]] ?? 10);
    }
  }));
  hotCells.forEach(([x, y, l]) => put(trueResidue(x), trueResidue(y), l));
  bandStretches.forEach(([from, to, prof]) => {
    for (let x = 1; x <= residueCount; x++) for (let d = 0; d < prof.length; d++) {
      const y = x + d;
      const c = (x + y) / 2;
      if (c > from && c <= to) put(x, y, parseInt(prof[d], 16));
    }
  });
  bandHoles.forEach(([a, b]) => { grid.delete(a + "," + b); grid.delete(b + "," + a); });
  const out: number[][] = [];
  grid.forEach((l, k) => {
    const [x, y] = k.split(",").map(Number);
    out.push([x - 1, y - 1, levelValue(l)]);
  });
  return out;
}

const font = "'Liberation Sans', Arial, sans-serif";
const everyHundred = (i: number) => (i + 1) % 100 === 0;

export default function App() {
  const ref = useRef<HTMLDivElement>(null);
  useEffect(() => {
    const chart = echarts.init(ref.current!, null, { renderer: "svg" });
    const main = { left: 202, top: 106, width: 1664, height: 1664 };
    const bar = { left: 1889.5, top: 106, width: 11.5, height: 1664 };
    const tick = { show: true, length: 6, alignWithLabel: true, interval: everyHundred, lineStyle: { color: "#000", width: 4, cap: "round" } };
    const label = { fontFamily: font, fontWeight: "bold", fontSize: 60, color: "#000", lineHeight: 44 };
    const axisBase = { type: "category", data: categories, gridIndex: 0, axisLine: { show: false }, splitLine: { show: false }, axisTick: tick };
    const frame = (g: any) => ({ type: "rect", z: 100, shape: { x: g.left, y: g.top, width: g.width, height: g.height, r: 1 }, style: { fill: "none", stroke: "#000", lineWidth: 6, lineJoin: "round" } });
    chart.setOption({
      animation: false,
      backgroundColor: "#fff",
      grid: [
        { ...main, show: true, backgroundColor: binColors[15], borderWidth: 0 },
        { ...bar, show: false },
      ],
      xAxis: [
        { ...axisBase, position: "bottom", axisLabel: { ...label, interval: everyHundred, margin: 13 }, name: "Residue index", nameLocation: "center", nameGap: 89, nameMoveOverlap: false, nameTextStyle: { ...label, verticalAlign: "middle" } },
        { ...axisBase, position: "top", axisLabel: { show: false } },
        { type: "category", data: ["bar"], gridIndex: 1, show: false },
      ],
      yAxis: [
        { ...axisBase, position: "left", axisLabel: { ...label, interval: everyHundred, margin: 9 }, name: "Residue index", nameLocation: "center", nameGap: 142, nameRotate: 90, nameMoveOverlap: false, nameTextStyle: { ...label, verticalAlign: "middle" } },
        { ...axisBase, position: "right", axisLabel: { show: false } },
        {
          type: "value", gridIndex: 1, position: "right", min: scaleMin, max: scaleMax, splitLine: { show: false }, axisLine: { show: false },
          axisTick: { show: true, length: 7, customValues: scaleTicks, lineStyle: { color: "#000", width: 4, cap: "round" } },
          axisLabel: { customValues: scaleTicks, fontFamily: font, fontWeight: "bold", fontSize: 45, color: "#000", margin: 11 },
        },
      ],
      visualMap: {
        show: false, type: "piecewise", seriesIndex: 0, dimension: 2,
        pieces: binColors.map((color, i) => ({ gte: scaleMin + i * binWidth, lt: scaleMin + (i + 1) * binWidth, color })),
      },
      graphic: { elements: [frame(main), frame(bar)] },
      series: [
        { type: "heatmap", xAxisIndex: 0, yAxisIndex: 0, data: buildCells(), progressive: 0, silent: true, itemStyle: { borderWidth: 0 } },
        ...binColors.map((color, i) => ({
          type: "bar", xAxisIndex: 2, yAxisIndex: 2, stack: "scale", barWidth: "100%", silent: true, itemStyle: { color },
          data: [i === 0 ? scaleMin + binWidth : binWidth],
        })),
      ],
    });
    return () => chart.dispose();
  }, []);
  return <div ref={ref} style={{ position: "absolute", left: 0, top: 0, width: 2000, height: 2000, background: "#fff" }} />;
}
